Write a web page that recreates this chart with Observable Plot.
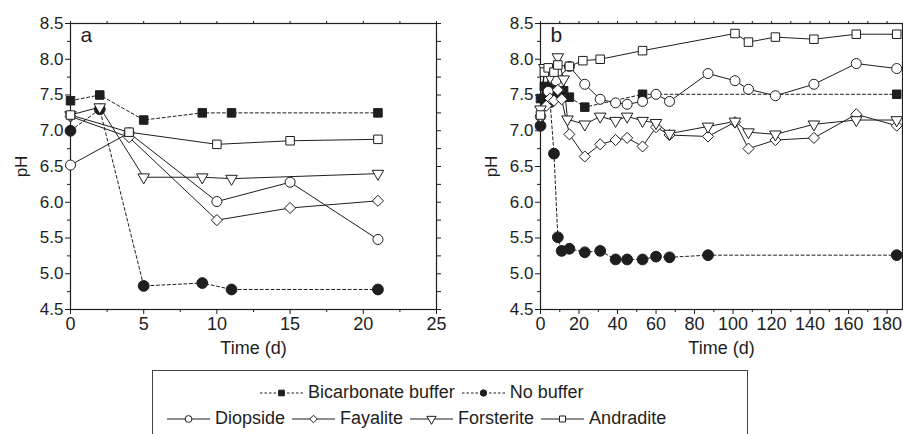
<!DOCTYPE html>
<html>
<head>
<meta charset="utf-8">
<script src="https://cdn.jsdelivr.net/npm/d3@7"></script>
<script src="https://cdn.jsdelivr.net/npm/@observablehq/plot@0.6"></script>
<style>
  html, body { margin: 0; padding: 0; background: #fff; }
  #root { position: relative; width: 903px; height: 434px; overflow: hidden; font-family: "Liberation Sans", Arial, sans-serif; color: #1e1e1e; }
  .panel { position: absolute; top: 0; }
  #legend { position: absolute; left: 152px; top: 370px; width: 596px; height: 80px; border: 1px solid #444; box-sizing: border-box; }
  .lrow { position: absolute; display: flex; align-items: center; font-size: 18px; white-space: nowrap; }
  .litem { display: flex; align-items: center; margin-right: 7px; }
  .litem svg { margin-right: 5px; }
</style>
</head>
<body>
<div id="root">
  <div id="pa" class="panel" style="left:0px"></div>
  <div id="pb" class="panel" style="left:460px"></div>
  <div id="legend"></div>
</div>
<script>
// ---------- Data ----------
const seriesNames = ["Bicarbonate buffer", "No buffer", "Diopside", "Fayalite", "Forsterite", "Andradite"];

// Panel a
const aBicarbDays = [0, 2, 5, 9, 11, 21];
const aBicarbPH   = [7.42, 7.5, 7.15, 7.25, 7.25, 7.25];
const aNoBufDays  = [0, 2, 5, 9, 11, 21];
const aNoBufPH    = [7.0, 7.3, 4.83, 4.87, 4.78, 4.78];
const aDiopDays   = [0, 4, 10, 15, 21];
const aDiopPH     = [6.52, 6.97, 6.01, 6.28, 5.48];
const aFayaDays   = [0, 4, 10, 15, 21];
const aFayaPH     = [7.2, 6.91, 5.75, 5.92, 6.02];
const aForsDays   = [0, 2, 5, 9, 11, 21];
const aForsPH     = [7.22, 7.33, 6.35, 6.35, 6.33, 6.4];
const aAndrDays   = [0, 4, 10, 15, 21];
const aAndrPH     = [7.22, 6.98, 6.81, 6.86, 6.88];

// Panel b
const bBicarbDays = [0, 2, 4, 6, 8, 12, 15, 23, 53, 185];
const bBicarbPH   = [7.45, 7.62, 7.55, 7.68, 7.5, 7.56, 7.47, 7.33, 7.51, 7.51];
const bNoBufDays  = [0, 2, 4, 5, 7, 9, 11, 15, 23, 31, 39, 45, 53, 60, 67, 87, 185];
const bNoBufPH    = [7.07, 7.45, 7.6, 7.4, 6.68, 5.51, 5.32, 5.35, 5.3, 5.32, 5.2, 5.2, 5.2, 5.24, 5.23, 5.26, 5.26];
const bDiopDays   = [0, 4, 8, 15, 23, 31, 39, 45, 53, 60, 67, 87, 101, 108, 122, 142, 164, 185];
const bDiopPH     = [7.2, 7.55, 7.7, 7.9, 7.65, 7.44, 7.39, 7.37, 7.41, 7.51, 7.41, 7.8, 7.7, 7.58, 7.49, 7.65, 7.94, 7.87];
const bFayaDays   = [0, 3, 5, 7, 9, 11, 15, 23, 31, 39, 45, 53, 60, 67, 87, 101, 108, 122, 142, 164, 185];
const bFayaPH     = [7.2, 7.35, 7.45, 7.42, 7.57, 7.44, 6.95, 6.64, 6.81, 6.87, 6.9, 6.78, 7.05, 6.94, 6.92, 7.12, 6.75, 6.87, 6.9, 7.23, 7.07];
const bForsDays   = [0, 2, 5, 9, 12, 14, 23, 31, 39, 45, 53, 60, 67, 87, 101, 108, 122, 142, 164, 185];
const bForsPH     = [7.3, 7.88, 7.75, 8.03, 7.72, 7.16, 7.09, 7.2, 7.14, 7.2, 7.14, 7.11, 6.96, 7.06, 7.13, 6.98, 6.95, 7.09, 7.15, 7.15];
const bAndrDays   = [0, 2, 4, 7, 9, 15, 22, 31, 53, 101, 108, 122, 142, 164, 185];
const bAndrPH     = [7.22, 7.82, 7.88, 7.82, 7.92, 7.9, 7.98, 8.0, 8.12, 8.36, 8.24, 8.31, 8.28, 8.35, 8.35];

// Axis ticks
const yMajor = [4.5, 5.0, 5.5, 6.0, 6.5, 7.0, 7.5, 8.0, 8.5];
const yMinor = [4.75, 5.25, 5.75, 6.25, 6.75, 7.25, 7.75, 8.25];
const aXMajor = [0, 5, 10, 15, 20, 25];
const aXMinor = [2.5, 7.5, 12.5, 17.5, 22.5];
const bXMajor = [0, 20, 40, 60, 80, 100, 120, 140, 160, 180];
const bXMinor = [10, 30, 50, 70, 90, 110, 130, 150, 170];

// ---------- Styles ----------
const INK = "#1e1e1e";
const FONT = "Liberation Sans, Arial, sans-serif";
const styles = {
  "Bicarbonate buffer": {symbol: "square",   fill: INK,   dash: "3,2.5", r: 4.8, rotate: 0},
  "No buffer":          {symbol: "circle",   fill: INK,   dash: "3,2.5", r: 5.4, rotate: 0},
  "Diopside":           {symbol: "circle",   fill: "#fff", dash: null,   r: 5,   rotate: 0},
  "Fayalite":           {symbol: "diamond2", fill: "#fff", dash: null,   r: 5,   rotate: 0},
  "Forsterite":         {symbol: "triangle", fill: "#fff", dash: null,   r: 4.3, rotate: 180},
  "Andradite":          {symbol: "square",   fill: "#fff", dash: null,   r: 4.8, rotate: 0}
};

function rows(name, days, ph) { return days.map((d, i) => ({series: name, day: d, ph: ph[i]})); }

const panelA = [
  rows("Bicarbonate buffer", aBicarbDays, aBicarbPH),
  rows("No buffer", aNoBufDays, aNoBufPH),
  rows("Diopside", aDiopDays, aDiopPH),
  rows("Fayalite", aFayaDays, aFayaPH),
  rows("Forsterite", aForsDays, aForsPH),
  rows("Andradite", aAndrDays, aAndrPH)
];
const panelB = [
  rows("Bicarbonate buffer", bBicarbDays, bBicarbPH),
  rows("No buffer", bNoBufDays, bNoBufPH),
  rows("Diopside", bDiopDays, bDiopPH),
  rows("Fayalite", bFayaDays, bFayaPH),
  rows("Forsterite", bForsDays, bForsPH),
  rows("Andradite", bAndrDays, bAndrPH)
];

function seriesMarks(groups) {
  const lines = [], dots = [];
  const order = [2, 3, 4, 5, 0, 1];
  for (const k of order) {
    const g = groups[k]; const s = styles[g[0].series];
    lines.push(Plot.line(g, {x: "day", y: "ph", stroke: INK, strokeWidth: 1, strokeDasharray: s.dash}));
  }
  for (const k of [1, 0, 2, 3, 4, 5]) {
    const g = groups[k]; const s = styles[g[0].series];
    dots.push(Plot.dot(g, {x: "day", y: "ph", symbol: () => s.symbol, r: s.r, fill: s.fill, stroke: INK, strokeWidth: 1, rotate: s.rotate}));
  }
  return [...lines, ...dots];
}

function panel(groups, opts) {
  return Plot.plot({
    width: opts.width, height: 350,
    marginLeft: opts.marginLeft, marginRight: opts.marginRight, marginTop: 23, marginBottom: 41,
    x: {domain: opts.xDomain},
    y: {domain: [4.5, 8.5]},
    style: {fontFamily: FONT, fontSize: "17px", color: INK, background: "transparent", overflow: "visible"},
    marks: [
      Plot.frame({stroke: INK, strokeWidth: 1.2}),
      Plot.axisY(yMajor, {anchor: "left", tickSize: 5, tickPadding: 2, tickFormat: d => d.toFixed(1), fontSize: 17, label: "pH", labelArrow: "none", labelAnchor: "center", labelOffset: 56}),
      Plot.axisY(yMinor, {anchor: "left", tickSize: 3, tickFormat: () => "", label: null}),
      Plot.axisY([...yMajor, ...yMinor], {anchor: "right", tickSize: 4, tickFormat: () => "", label: null}),
      Plot.axisX(opts.xMajor, {anchor: "bottom", tickSize: 5, tickPadding: 3, fontSize: 18, label: "Time (d)", labelArrow: "none", labelAnchor: "center", labelOffset: 44}),
      Plot.axisX(opts.xMinor, {anchor: "bottom", tickSize: 3, tickFormat: () => "", label: null}),
      Plot.axisX([...opts.xMajor, ...opts.xMinor], {anchor: "top", tickSize: 3, tickFormat: () => "", label: null}),
      ...seriesMarks(groups),
      Plot.text([opts.letter], {frameAnchor: "top-left", dx: 10, dy: 4, fontSize: 21, textAnchor: "start", lineAnchor: "top", fill: INK})
    ]
  });
}

document.getElementById("pa").append(panel(panelA, {width: 450, marginLeft: 70, marginRight: 14, xDomain: [0, 25], xMajor: aXMajor, xMinor: aXMinor, letter: "a"}));
document.getElementById("pb").append(panel(panelB, {width: 443, marginLeft: 80, marginRight: 1, xDomain: [0, 188], xMajor: bXMajor, xMinor: bXMinor, letter: "b"}));

// ---------- Legend ----------
function swatch(name) {
  const s = styles[name];
  const w = 43, h = 14, cx = w / 2, cy = h / 2;
  const svg = d3.create("svg").attr("width", w).attr("height", h);
  svg.append("line").attr("x1", 0).attr("x2", w).attr("y1", cy).attr("y2", cy)
    .attr("stroke", INK).attr("stroke-width", 1).attr("stroke-dasharray", s.dash ? "2.5,2" : null);
  const symMap = {square: d3.symbolSquare, circle: d3.symbolCircle, diamond2: d3.symbolDiamond2, triangle: d3.symbolTriangle};
  const rr = s.fill === INK ? 3.2 : 3.4;
  svg.append("path").attr("d", d3.symbol(symMap[s.symbol], Math.PI * rr * rr)())
    .attr("transform", `translate(${cx},${cy}) rotate(${s.rotate})`)
    .attr("fill", s.fill).attr("stroke", INK).attr("stroke-width", 1);
  return svg.node();
}
const legend = document.getElementById("legend");
function legendRow(names, left, top) {
  const row = document.createElement("div");
  row.className = "lrow";
  row.style.left = left + "px"; row.style.top = top + "px";
  for (const n of names) {
    const it = document.createElement("div"); it.className = "litem";
    it.append(swatch(n));
    const t = document.createElement("span"); t.textContent = n; it.append(t);
    row.append(it);
  }
  legend.append(row);
}
legendRow(seriesNames.slice(0, 2), 260 - 153, 11);
legendRow(seriesNames.slice(2), 167 - 153, 37);
</script>
</body>
</html>
